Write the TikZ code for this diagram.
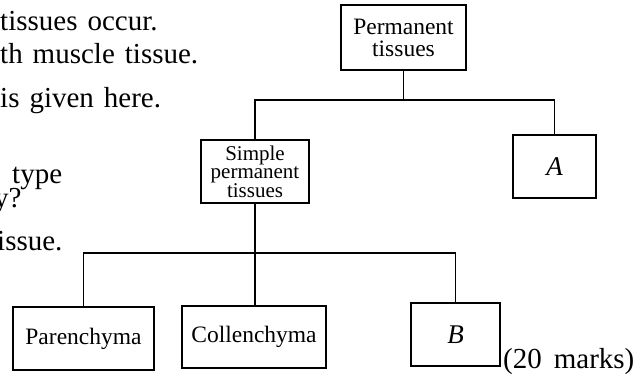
\documentclass[tikz,border=0pt]{standalone}
\usepackage{fontspec}
\setmainfont{Liberation Serif}
\begin{document}
\begin{tikzpicture}[x=1pt,y=-1pt,
  box/.style={draw,line width=1.1pt,inner sep=0pt,align=center,font=\fontsize{23.5}{22}\selectfont},
  body/.style={anchor=base west,inner sep=0pt,font=\fontsize{29}{30}\selectfont},
  letter/.style={font=\fontsize{27}{28}\selectfont\itshape},
  link/.style={line width=1.1pt}]
\useasboundingbox (0,0) rectangle (644,382);
% body text fragments
\node[body] (t1) at (0,31) {tissues\hspace{10pt}occur.};
\node[body] (t2) at (0,64) {th\hspace{10pt}muscle\hspace{10pt}tissue.};
\node[body] (t3) at (0,108) {is\hspace{10pt}given\hspace{10pt}here.};
\node[body] (t4) at (12,183) {type};
\node[body] (t5) at (-6,207) {y?};
\node[body] (t6) at (-3,250) {issue.};
\node[body] (t7) at (503,368) {(20\hspace{12pt}marks)};
% boxes
\node[box,minimum width=125pt,minimum height=65pt] (top) at (403.5,37.5) {Permanent\\tissues};
\node[box,letter,minimum width=83pt,minimum height=63pt] (A) at (554.5,166.5) {A};
\node[box,minimum width=108pt,minimum height=63pt,font=\fontsize{21}{18.5}\selectfont] (simple) at (255,171.5) {Simple\\permanent\\tissues};
\node[box,minimum width=141pt,minimum height=63pt] (par) at (83.5,338.5) {Parenchyma};
\node[box,minimum width=144pt,minimum height=62pt] (col) at (254,337) {Collenchyma};
\node[box,letter,minimum width=89pt,minimum height=63pt] (B) at (455.5,334.5) {B};
% connectors
\coordinate (h1) at (0,100);
\coordinate (h2) at (0,253);
\draw[link] (top.south) -- (top.south |- h1);
\draw[link] (simple.north) -- (simple.north |- h1) -- (A.north |- h1) -- (A.north);
\draw[link] (simple.south) -- (simple.south |- col.north);
\draw[link] (par.north) -- (par.north |- h2) -- (B.north |- h2) -- (B.north);
\end{tikzpicture}
\end{document}
